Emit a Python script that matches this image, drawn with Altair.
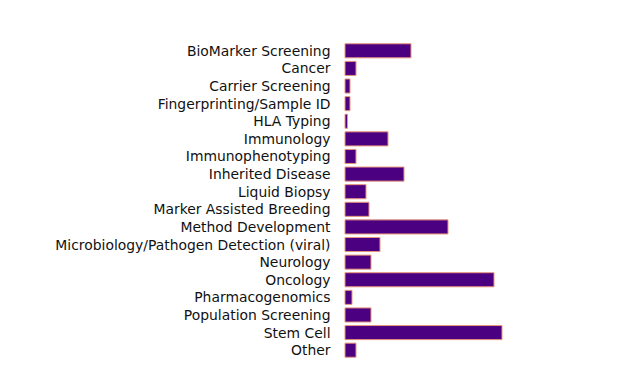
import altair as alt
import pandas as pd

categories = [
    "BioMarker Screening", "Cancer", "Carrier Screening", "Fingerprinting/Sample ID",
    "HLA Typing", "Immunology", "Immunophenotyping", "Inherited Disease",
    "Liquid Biopsy", "Marker Assisted Breeding", "Method Development",
    "Microbiology/Pathogen Detection (viral)", "Neurology", "Oncology",
    "Pharmacogenomics", "Population Screening", "Stem Cell", "Other",
]
values = [66, 11, 5, 5, 2.5, 43, 11, 59, 21, 24, 103, 35, 26, 149, 7, 26, 157, 11]

df = pd.DataFrame({"category": categories, "value": values})

chart = (
    alt.Chart(df)
    .mark_bar(color="#4B0082", stroke="#E9967A", strokeWidth=1)
    .encode(
        y=alt.Y(
            "category:N",
            sort=categories,
            title=None,
            scale=alt.Scale(paddingInner=0.2, paddingOuter=0.1),
            axis=alt.Axis(
                domain=False, ticks=False, labelPadding=15, labelFontSize=13.9,
                labelFont="DejaVu Sans", labelColor="#111111", labelLimit=400,
                labelOffset=1,
            ),
        ),
        x=alt.X(
            "value:Q",
            title=None,
            scale=alt.Scale(domain=[0, 200], nice=False),
            axis=None,
        ),
    )
    .properties(
        width=200,
        height=317,
        autosize=alt.AutoSizeParams(type="none"),
        padding={"left": 337, "top": 34, "right": 10, "bottom": 4},
    )
    .configure_view(stroke=None)
    .configure_axis(grid=False)
)

chart.save("out.html", embed_options={"renderer": "svg", "actions": False})
